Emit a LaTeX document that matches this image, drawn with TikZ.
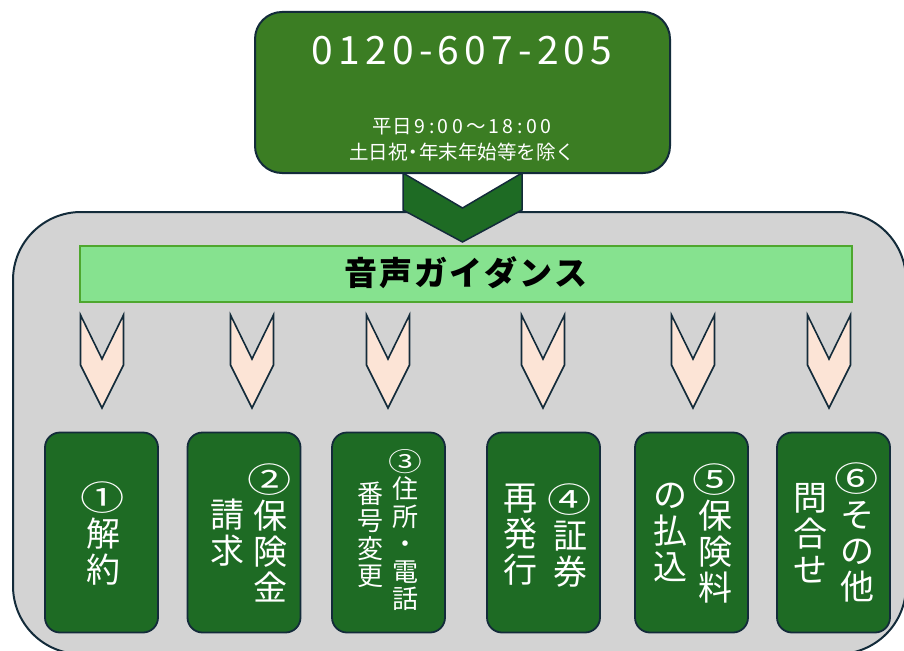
\documentclass[tikz,border=0pt]{standalone}
\usepackage{fontspec}
\setmainfont{Noto Sans CJK JP}
\definecolor{outl}{HTML}{132B3A}
\definecolor{topgreen}{HTML}{3B7D23}
\definecolor{darkgreen}{HTML}{1E6B24}
\definecolor{panelgray}{HTML}{D3D3D3}
\definecolor{bannerfill}{HTML}{86E28F}
\definecolor{bannerline}{HTML}{4EA72E}
\definecolor{pinkfill}{HTML}{FCE4D6}
\newcommand\circnum[1]{\scalebox{1.3}[1.0]{#1}}
\tikzset{
  panel/.style={draw=outl, line width=2pt, fill=panelgray, rounded corners=68pt},
  telbox/.style={draw=outl, line width=2pt, fill=topgreen, rounded corners=27pt,
    minimum width=415pt, minimum height=161pt, inner sep=0pt},
  banner/.style={draw=bannerline, line width=1.6pt, fill=bannerfill,
    minimum width=772pt, minimum height=56pt, inner sep=0pt},
  menubox/.style={draw=outl, line width=1.8pt, fill=darkgreen, rounded corners=15pt,
    minimum width=113pt, minimum height=200pt, inner sep=0pt},
  vcol/.style={text=white, align=center, inner sep=0pt, font=\fontsize{34}{36}\selectfont},
  vcolsmall/.style={text=white, align=center, inner sep=0pt, font=\fontsize{26}{27.5}\selectfont},
  bigchev/.pic={\draw[outl, line width=1.5pt, fill=darkgreen]
      (-59.5,0) -- (0,35) -- (59.5,0) -- (59.5,37) -- (0,69) -- (-59.5,37) -- cycle;},
  smallchev/.pic={\draw[outl, line width=1.6pt, fill=pinkfill, line join=miter]
      (-21.5,0) -- (0,44) -- (21.5,0) -- (21.5,50) -- (0,93) -- (-21.5,50) -- cycle;},
}
\begin{document}
\begin{tikzpicture}[x=1pt, y=-1pt]
\useasboundingbox (0,0) rectangle (904,650);
% gray panel
\path[panel] (13,212) rectangle (906,654);
% banner
\node[banner] (guide) at (466,274) {};
\node[inner sep=0pt, font=\fontsize{33}{33}\selectfont\bfseries] (guidetext) at (466,273)
  {音\hspace{2pt}声\hspace{2pt}ガ\hspace{2pt}イ\hspace{2pt}ダ\hspace{2pt}ン\hspace{2pt}ス};
% big chevron
\pic at (462.5,173) {bigchev};
% top box
\node[telbox] (tel) at (462.5,92.5) {};
\node[text=white, inner sep=0pt, font=\fontsize{39}{39}\selectfont] (telno) at (462,51)
  {0\kern5.2pt1\kern5.2pt2\kern5.2pt0\kern5.2pt-\kern5.2pt6\kern5.2pt0\kern5.2pt7\kern5.2pt-\kern5.2pt2\kern5.2pt0\kern5.2pt5};
\node[text=white, inner sep=0pt, align=center, font=\fontsize{19.5}{26}\selectfont] (hours) at (462,140)
  {平日\kern3pt9\kern3.5pt:\kern3.5pt0\kern3.5pt0\kern3pt～\kern3pt1\kern3.5pt8\kern3.5pt:\kern3.5pt0\kern3.5pt0\\土日祝\kern-4pt・\kern-4pt年末年始等を除く};
% small chevrons
\foreach \cx in {102,252,388,543,693,829} {
  \pic at (\cx,315) {smallchev};
}
% menu boxes
\node[menubox] (m1) at (101.5,532.5) {};
\node[menubox] (m2) at (244,532.5) {};
\node[menubox] (m3) at (388.5,532.5) {};
\node[menubox] (m4) at (543.5,532.5) {};
\node[menubox] (m5) at (691.5,532.5) {};
\node[menubox] (m6) at (833.5,532.5) {};
% texts
\node[vcol] (t1) at (103,534) {\circnum{①}\\解\\約};
\node[vcol] (t2r) at (270,533) {\circnum{②}\\保\\険\\金};
\node[vcol] (t2l) at (227,533) {請\\求};
\node[vcolsmall] (t3r) at (405,530) {\circnum{③}\\住\\所\\・\\電\\話};
\node[vcolsmall] (t3l) at (370,535) {番\\号\\変\\更};
\node[vcol] (t4r) at (570,536) {\circnum{④}\\証\\券};
\node[vcol] (t4l) at (520,535) {再\\発\\行};
\node[vcol] (t5r) at (715,533) {\circnum{⑤}\\保\\険\\料};
\node[vcol] (t5l) at (670,533) {の\\払\\込};
\node[vcol] (t6r) at (857,532) {\circnum{⑥}\\そ\\の\\他};
\node[vcol] (t6l) at (810,533) {問\\合\\せ};
\end{tikzpicture}
\end{document}
